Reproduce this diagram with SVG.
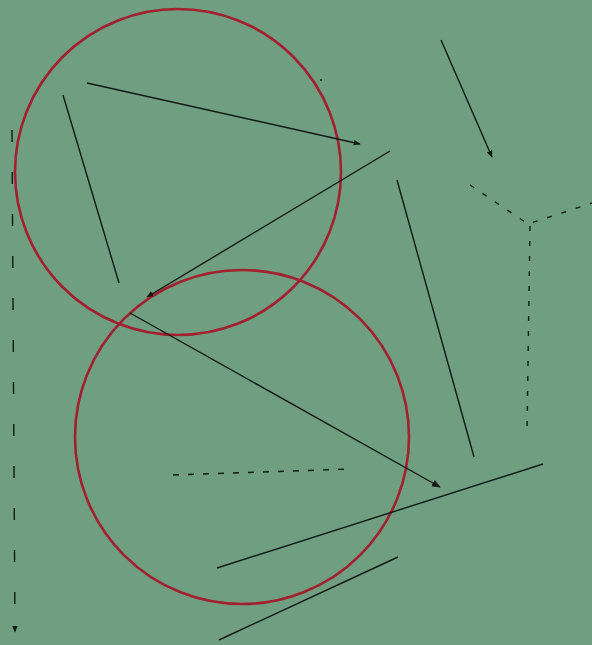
<svg xmlns="http://www.w3.org/2000/svg" width="592" height="645" viewBox="0 0 592 645">
<defs>
<style>
.c{fill:none;stroke:#a2202f;stroke-width:2.6}
.l{fill:none;stroke:#111a14;stroke-width:1.4}
.d1{stroke-dasharray:12 30}
.d2{stroke-dasharray:6 9}
.d3{stroke-dasharray:5 10}
</style>
<marker id="a" viewBox="0 0 10 10" refX="9" refY="5" markerWidth="7" markerHeight="7" orient="auto-start-reverse" markerUnits="userSpaceOnUse">
<path d="M0,1 L10,5 L0,9 z" fill="#111a14"/>
</marker>
<marker id="s" viewBox="0 0 10 10" refX="9" refY="5" markerWidth="9" markerHeight="9" orient="auto" markerUnits="userSpaceOnUse">
<path d="M0,1 L10,5 L0,9 z" fill="#111a14"/>
</marker>
</defs>
<rect width="592" height="645" fill="#6f9e80"/>
<g id="circle-top"><circle class="c" cx="178" cy="172" r="163"/></g>
<g id="circle-bottom"><circle class="c" cx="242" cy="437" r="167"/></g>
<g id="connectors">
<line class="l" x1="87" y1="83" x2="360" y2="144" marker-end="url(#a)"/>
<line class="l" x1="63" y1="95" x2="119" y2="283"/>
<line class="l" x1="390" y1="151" x2="147" y2="297" marker-end="url(#a)"/>
<line class="l" x1="130" y1="313" x2="440" y2="487" marker-end="url(#s)"/>
<line class="l" x1="397" y1="180" x2="474" y2="457"/>
<line class="l" x1="441" y1="40" x2="492" y2="157" marker-end="url(#a)"/>
<line class="l" x1="217" y1="568" x2="543" y2="464"/>
<line class="l" x1="219" y1="640" x2="398" y2="557"/>
<polyline class="l d3" points="470,185 528,224 592,203"/>
<line class="l d3" x1="530" y1="226" x2="527" y2="432"/>
<line class="l d1" x1="12" y1="130" x2="15" y2="632" marker-end="url(#a)"/>
<line class="l d2" x1="173" y1="475" x2="350" y2="469"/>
<circle cx="321" cy="80" r="1" fill="#111a14"/>
</g>
</svg>
